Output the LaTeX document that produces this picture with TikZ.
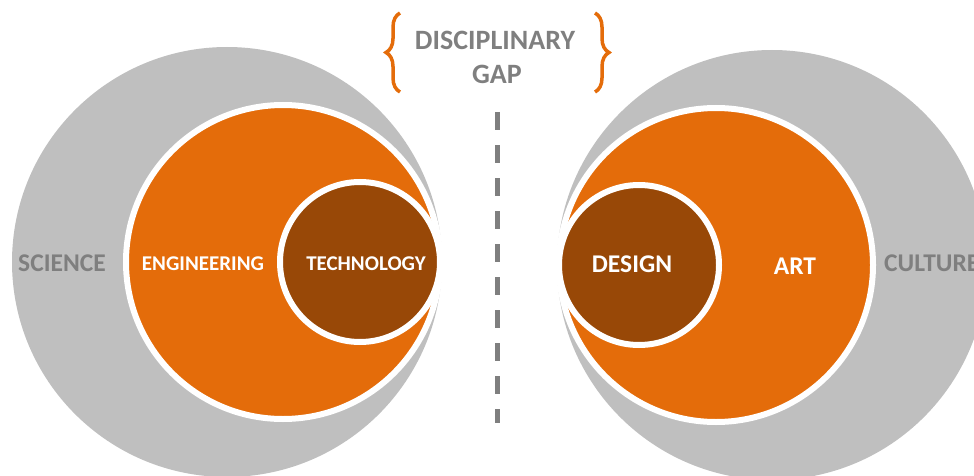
\documentclass[tikz,border=0pt]{standalone}
\usepackage{fontspec}
\setmainfont{Carlito}
\usetikzlibrary{decorations.pathreplacing}
\definecolor{ringgrey}{HTML}{BFBFBF}
\definecolor{ringorange}{HTML}{E46C0A}
\definecolor{ringbrown}{HTML}{984807}
\definecolor{textgrey}{HTML}{7F7F7F}
\begin{document}
\begin{tikzpicture}[x=1pt,y=-1pt,
  rim/.style={draw=white,line width=6pt},
  big/.style={font=\bfseries\fontsize{25.5}{30}\selectfont,inner sep=0pt},
  small/.style={font=\bfseries\fontsize{21}{25}\selectfont,inner sep=0pt,text=white},
  head/.style={font=\bfseries\fontsize{28}{32}\selectfont,inner sep=0pt,text=textgrey},
  curly/.style={decorate,decoration={brace,amplitude=14pt},draw=ringorange,line width=3.5pt}]
\useasboundingbox (0,0) rectangle (974,476);
\clip (0,0) rectangle (974,476);
\coordinate (S) at (227,262);
\coordinate (E) at (283,262);
\coordinate (T) at (360,262);
\coordinate (C) at (772,265);
\coordinate (A) at (716,265);
\coordinate (D) at (639,265);
\fill[ringgrey] (S) circle[radius=215pt] (C) circle[radius=215pt];
\draw[rim,fill=ringorange] (E) circle[radius=157pt];
\draw[rim,fill=ringorange] (A) circle[radius=157pt];
\draw[rim,fill=ringbrown] (T) circle[radius=80pt];
\draw[rim,fill=ringbrown] (D) circle[radius=80pt];
\node[big,text=textgrey] (sci) at (62,263) {SCIENCE};
\node[small] (eng) at (203,264) {ENGINEERING};
\node[small] (tec) at (366,264) {TECHNOLOGY};
\node[big,text=white] (des) at (632,264) {DESIGN};
\node[big,text=white] (art) at (795,266) {ART};
\node[big,text=textgrey,anchor=west] (cul) at (884,263) {CULTURE};
\node[head] (dis) at (495,40) {DISCIPLINARY};
\node[head] (gap) at (497,74) {GAP};
\coordinate (L1) at (400,92);
\coordinate (L2) at (400,13);
\coordinate (R1) at (595,13);
\coordinate (R2) at (595,92);
\draw[curly] (L1) -- (L2);
\draw[curly] (R1) -- (R2);
\coordinate (G1) at (497,112);
\coordinate (G2) at (497,423);
\draw[textgrey,line width=5pt,dash pattern=on 18pt off 15pt] (G1) -- (G2);
\end{tikzpicture}
\end{document}
